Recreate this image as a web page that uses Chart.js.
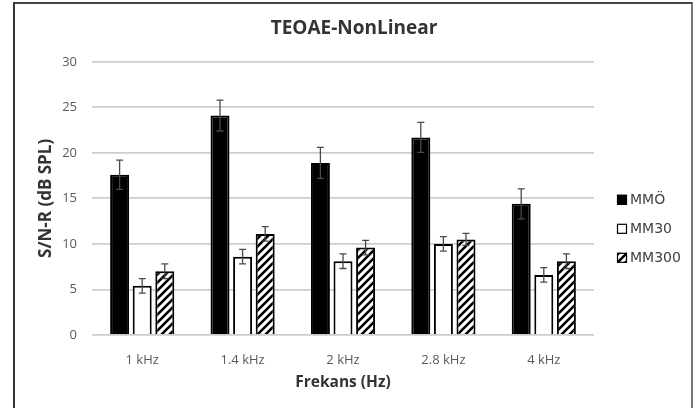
<!DOCTYPE html>
<html>
<head>
<meta charset="utf-8">
<script src="https://cdn.jsdelivr.net/npm/chart.js@4/dist/chart.umd.min.js"></script>
<style>
  html, body { margin: 0; padding: 0; background: #fff; }
  #wrap { position: relative; width: 699px; height: 408px; }
  #frame {
    position: absolute; left: 13px; top: 2px; width: 680px; height: 420px;
    border-left: 2px solid #333; border-top: 2px solid #444; border-right: 2px solid #777;
    box-sizing: border-box; pointer-events: none;
  }
  canvas { position: absolute; left: 0; top: 0; }
</style>
</head>
<body>
<div id="wrap">
  <canvas id="chart" width="699" height="408"></canvas>
  <div id="frame"></div>
</div>
<script>
    // values
    var categories = ['1 kHz', '1.4 kHz', '2 kHz', '2.8 kHz', '4 kHz'];
    var seriesNames = ['MMÖ', 'MM30', 'MM300'];
    var mmo = [17.6, 24.1, 18.9, 21.7, 14.4];
    var mmoErr = [1.6, 1.7, 1.7, 1.65, 1.65];
    var mm30 = [5.4, 8.6, 8.1, 10.0, 6.6];
    var mm30Err = [0.8, 0.8, 0.8, 0.8, 0.8];
    var mm300 = [7.0, 11.1, 9.6, 10.5, 8.1];
    var mm300Err = [0.8, 0.8, 0.8, 0.65, 0.8];
    var yTicks = [0, 5, 10, 15, 20, 25, 30];

    function makeHatch() {
      var c = document.createElement('canvas');
      c.width = 8; c.height = 8;
      var g = c.getContext('2d');
      g.fillStyle = '#fff';
      g.fillRect(0, 0, 8, 8);
      g.strokeStyle = '#000';
      g.lineWidth = 2.6;
      g.beginPath();
      g.moveTo(-2, 10); g.lineTo(10, -2);
      g.moveTo(-6, 6); g.lineTo(6, -6);
      g.moveTo(2, 14); g.lineTo(14, 2);
      g.stroke();
      return c;
    }
    var ctx = document.getElementById('chart').getContext('2d');
    var hatch = ctx.createPattern(makeHatch(), 'repeat');

    var errors = [mmoErr, mm30Err, mm300Err];

    var errorBars = {
      id: 'errorBars',
      afterDatasetsDraw: function(chart) {
        var c = chart.ctx;
        var y = chart.scales.y;
        c.save();
        c.strokeStyle = '#4a4a4a';
        c.lineWidth = 1.3;
        chart.data.datasets.forEach(function(ds, i) {
          var meta = chart.getDatasetMeta(i);
          meta.data.forEach(function(bar, j) {
            var v = ds.data[j], e = errors[i][j];
            var top = y.getPixelForValue(v + e);
            var bot = y.getPixelForValue(v - e);
            c.beginPath();
            c.moveTo(bar.x, top); c.lineTo(bar.x, bot);
            c.moveTo(bar.x - 3.5, top); c.lineTo(bar.x + 3.5, top);
            c.moveTo(bar.x - 3.5, bot); c.lineTo(bar.x + 3.5, bot);
            c.stroke();
          });
        });
        c.restore();
      }
    };

    // legend drawn at the right of the plot
    var sideLegend = {
      id: 'sideLegend',
      afterLayout: function(chart) {
        // center the title on the whole frame, not just the padded area
        chart.titleBlock.left = 13;
        chart.titleBlock.right = 695;
        chart.titleBlock.width = 682;
      },
      afterDraw: function(chart) {
        var c = chart.ctx;
        var a = chart.chartArea;
        c.save();
        c.font = '14px "DejaVu Sans"';
        c.textBaseline = 'middle';
        chart.data.datasets.forEach(function(ds, i) {
          var x = a.right + 23;
          var yc = a.top + 138 + i * 29;
          c.fillStyle = ds.backgroundColor;
          c.fillRect(x, yc - 5, 10, 10);
          c.strokeStyle = '#000';
          c.lineWidth = 1.2;
          c.strokeRect(x + 0.5, yc - 4.5, 9, 9);
          c.fillStyle = '#404040';
          c.fillText(ds.label, x + 13, yc + 1);
        });
        c.restore();
      }
    };

    var chart = new Chart(ctx, {
      type: 'bar',
      data: {
        labels: categories,
        datasets: [
          { label: seriesNames[0], data: mmo, backgroundColor: '#000', borderColor: '#000', borderWidth: 2 },
          { label: seriesNames[1], data: mm30, backgroundColor: '#fff', borderColor: '#000', borderWidth: 2 },
          { label: seriesNames[2], data: mm300, backgroundColor: hatch, borderColor: '#000', borderWidth: 2 }
        ]
      },
      options: {
        responsive: false,
        animation: false,
        datasets: { bar: { categoryPercentage: 0.675, barPercentage: 0.84 } },
        layout: { padding: { left: 36, right: 105, top: 0, bottom: 16 } },
        plugins: {
          legend: { display: false },
          tooltip: { enabled: false },
          title: {
            display: true,
            text: 'TEOAE-NonLinear',
            color: '#333',
            font: { family: '"Open Sans"', size: 19, weight: 'bold' },
            padding: { top: 17, bottom: 22 }
          }
        },
        scales: {
          x: {
            afterFit: function(s) { s.height = 57; },
            grid: { display: false, drawTicks: false },
            border: { display: false },
            ticks: { color: '#595959', font: { family: '"Open Sans"', size: 13 }, padding: 17 },
            title: {
              display: true, text: 'Frekans (Hz)', color: '#333',
              font: { family: '"Open Sans"', size: 15.5, weight: 'bold' }, padding: { top: 6, bottom: 0 }
            }
          },
          y: {
            min: 0, max: 30,
            afterBuildTicks: function(s) { s.ticks = yTicks.map(function(v) { return { value: v }; }); },
            afterFit: function(s) { s.width = 56; },
            grid: { color: '#cccccc', lineWidth: 1.8, drawTicks: false },
            border: { display: false },
            ticks: { color: '#595959', font: { family: '"Open Sans"', size: 13 }, padding: 15 },
            title: {
              display: true, text: 'S/N-R (dB SPL)', color: '#333',
              font: { family: '"Open Sans"', size: 17, weight: 'bold' }, padding: { top: 0, bottom: 0 }
            }
          }
        }
      },
      plugins: [errorBars, sideLegend]
    });
</script>
</body>
</html>
